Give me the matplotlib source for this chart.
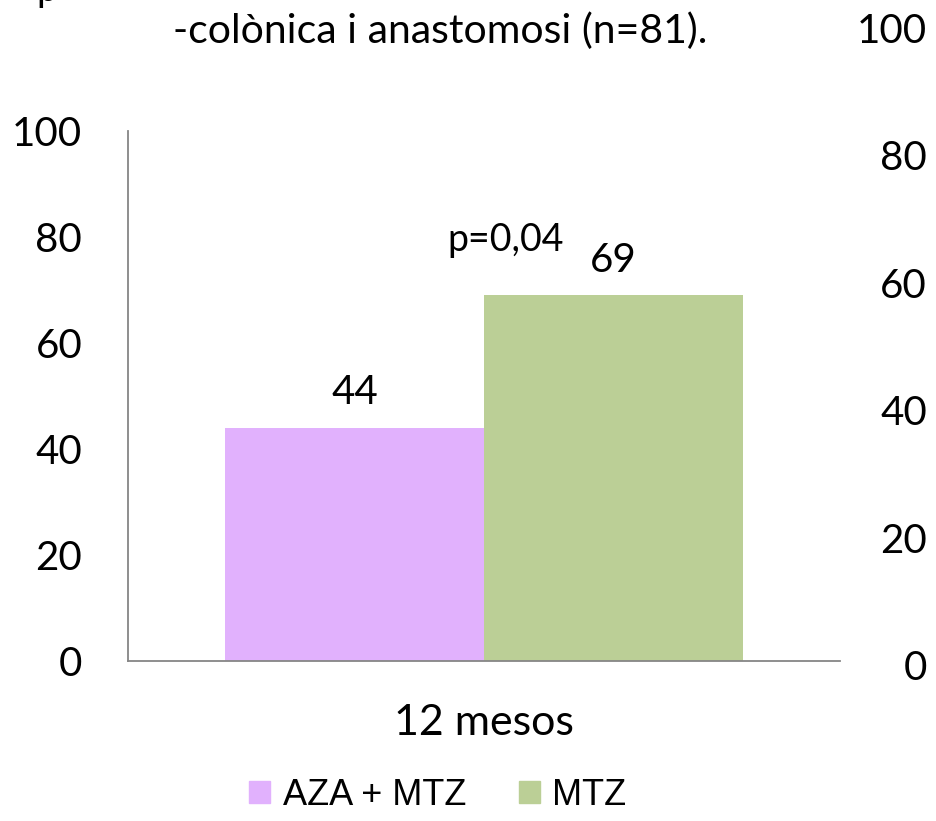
import matplotlib
matplotlib.use("Agg")
import matplotlib.pyplot as plt
from matplotlib.patches import Patch
from matplotlib import font_manager

plt.rcParams['font.family'] = ['Lato', 'DejaVu Sans']

categories = ["12 mesos"]
series_names = ["AZA + MTZ", "MTZ"]
values = [44, 69]
colors = ["#E1B1FD", "#BBCF96"]
left_ticks = [0, 20, 40, 60, 80, 100]
right_ticks = [0, 20, 40, 60, 80, 100]
title_text = "-colònica i anastomosi (n=81)."
p_text = "p=0,04"

names = {f.name for f in font_manager.fontManager.ttflist}
if "Liberation Sans Narrow" in names:
    leg_family, leg_size = "Liberation Sans Narrow", 32
else:
    leg_family, leg_size = "Liberation Sans", 26

W, H = 936, 821
fig = plt.figure(figsize=(W / 100, H / 100), dpi=100)

def rect(x0, y0, x1, y1):
    return [x0 / W, 1 - y1 / H, (x1 - x0) / W, (y1 - y0) / H]

ax = fig.add_axes(rect(128, 131, 840, 661))
ax.set_xlim(-1, 1)
ax.set_ylim(0, 100)
bw = 0.7275
offs = [-bw / 2, bw / 2]
for v, c, o, n in zip(values, colors, offs, series_names):
    ax.bar(o, v, width=bw, color=c, label=n, zorder=2)
    ax.annotate(str(v), (o, v), xytext=(0, 12), textcoords="offset points",
                ha="center", va="bottom", fontsize=29)
ax.text(0.062, 79.5, p_text, ha="center", va="center", fontsize=27)

for s in ["top", "right"]:
    ax.spines[s].set_visible(False)
for s in ["left", "bottom"]:
    ax.spines[s].set_color("#868686")
    ax.spines[s].set_linewidth(1.3)
ax.set_yticks(left_ticks)
ax.set_yticklabels([str(t) for t in left_ticks], fontsize=29)
ax.tick_params(axis="y", length=0, pad=33)
ax.set_xticks([0])
ax.set_xticklabels(categories, fontsize=31)
ax.tick_params(axis="x", length=0, pad=31)

ax2 = fig.add_axes(rect(934, 28, 935, 665))
ax2.set_ylim(0, 100)
ax2.set_xticks([])
for s in ax2.spines.values():
    s.set_visible(False)
ax2.patch.set_alpha(0)
ax2.set_yticks(right_ticks)
ax2.set_yticklabels([str(t) for t in right_ticks], fontsize=29)
ax2.tick_params(axis="y", length=0, pad=5)

fig.text(440 / W, 1 - 31 / H, title_text, ha="center", va="center", fontsize=29.5)
fig.text(36 / W, 1 - 1 / H, "p", ha="left", va="baseline", fontsize=27)

handles = [Patch(color=c, label=n) for c, n in zip(colors, series_names)]
fig.legend(handles=handles, loc="center", bbox_to_anchor=(438 / W, 1 - 795 / H),
           ncol=2, frameon=False, handlelength=0.58, handleheight=0.58,
           handletextpad=0.35, columnspacing=1.45, borderpad=0,
           prop={'family': [leg_family, 'DejaVu Sans'], 'size': leg_size})

fig.savefig("out.png", dpi=100)
